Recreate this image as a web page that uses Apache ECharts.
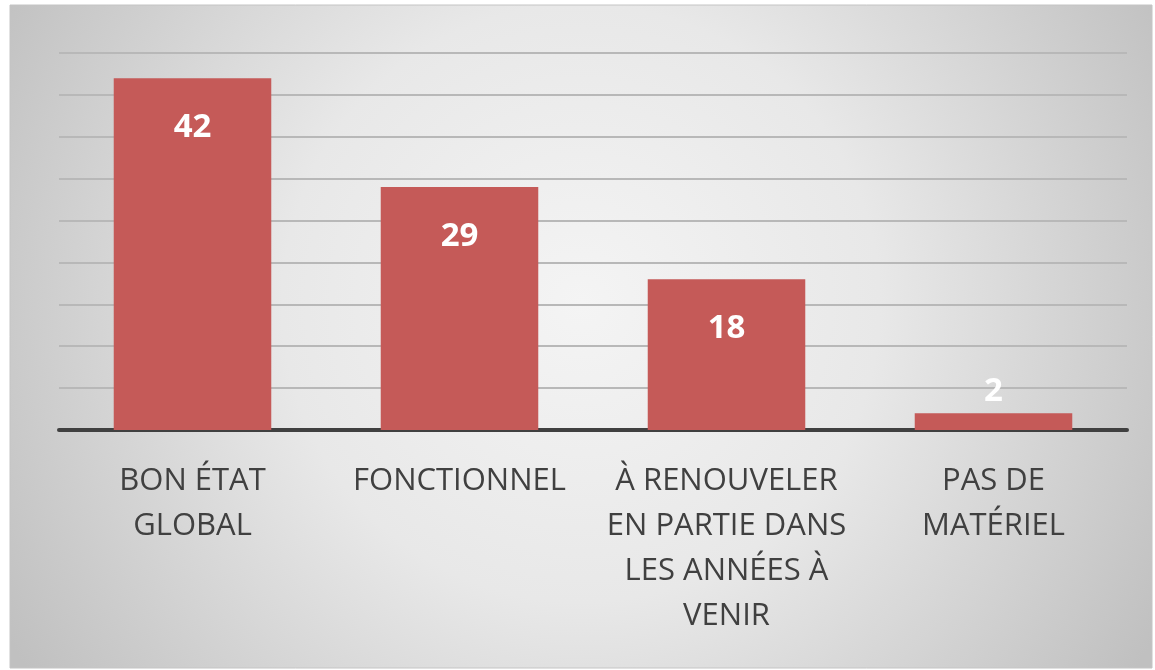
<!DOCTYPE html>
<html>
<head>
<meta charset="utf-8">
<script src="https://cdn.jsdelivr.net/npm/echarts@6/dist/echarts.min.js"></script>
<style>
html,body{margin:0;padding:0;background:#fff;}
#c{width:1155px;height:670px;}
</style>
</head>
<body>
<div id="c"></div>
<script>
var categories = ['BON ÉTAT\nGLOBAL', 'FONCTIONNEL', 'À RENOUVELER\nEN PARTIE DANS\nLES ANNÉES À\nVENIR', 'PAS DE\nMATÉRIEL'];
var values = [42, 29, 18, 2];
var yMin = 0, yMax = 45, yStep = 5;

var chart = echarts.init(document.getElementById('c'), null, {renderer: 'canvas'});

var seriesData = values.map(function (v) {
  var item = {value: v};
  if (v < 5) {
    item.label = {position: 'top', distance: 5};
  }
  return item;
});

chart.setOption({
  backgroundColor: '#ffffff',
  animation: false,
  graphic: [{
    type: 'rect',
    z: -10,
    silent: true,
    shape: {x: 10, y: 5, width: 1142, height: 663},
    style: {
      fill: {
        type: 'radial', x: 0.5, y: 0.45, r: 1.0,
        colorStops: [
          {offset: 0, color: '#f4f4f4'},
          {offset: 0.45, color: '#e8e8e8'},
          {offset: 1, color: '#c0c0c0'}
        ]
      },
      stroke: '#c4c4c4',
      lineWidth: 1
    }
  }],
  grid: {left: 59, right: 28, top: 53, bottom: 240},
  xAxis: {
    type: 'category',
    data: categories,
    axisLine: {show: true, lineStyle: {color: '#404040', width: 4}},
    axisTick: {show: false},
    axisLabel: {
      interval: 0,
      margin: 29,
      color: '#404040',
      fontFamily: 'Open Sans',
      fontSize: 31,
      lineHeight: 45
    }
  },
  yAxis: {
    type: 'value',
    min: yMin,
    max: yMax,
    interval: yStep,
    axisLine: {show: false},
    axisTick: {show: false},
    axisLabel: {show: false},
    splitLine: {show: true, lineStyle: {color: '#b8b8b8', width: 2}}
  },
  series: [{
    type: 'bar',
    data: seriesData,
    barCategoryGap: '41%',
    itemStyle: {color: '#C55A58'},
    label: {
      show: true,
      position: 'insideTop',
      distance: 33,
      color: '#ffffff',
      fontFamily: 'Open Sans',
      fontWeight: 'bold',
      fontSize: 33
    }
  }]
});
</script>
</body>
</html>
